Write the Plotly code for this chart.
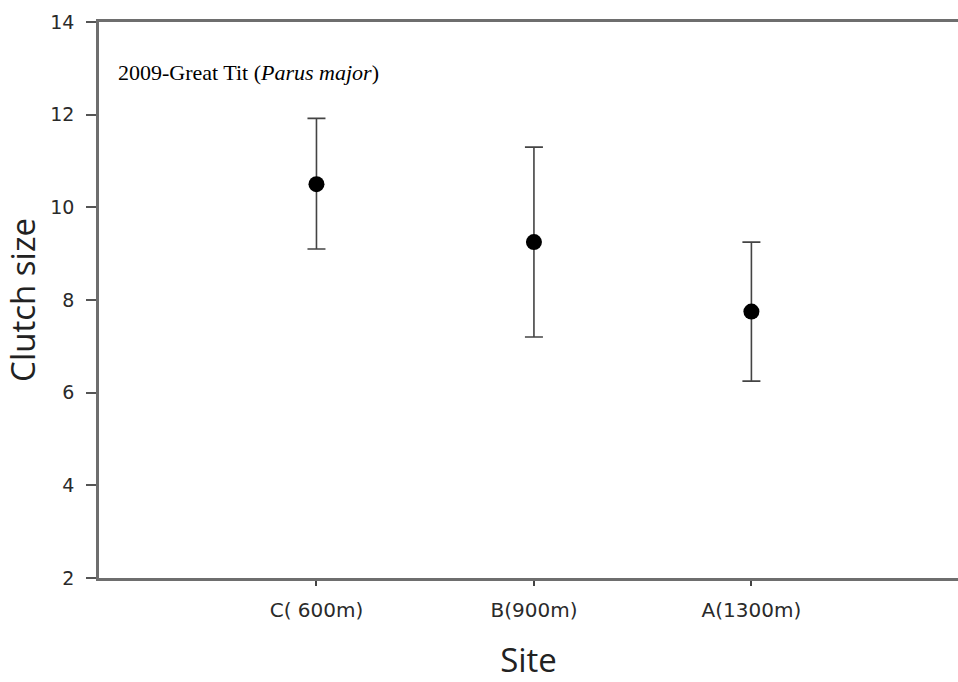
import plotly.graph_objects as go

sites = ["C( 600m)", "B(900m)", "A(1300m)"]
means = [10.5, 9.25, 7.75]
upper = [11.92, 11.3, 9.25]
lower = [9.1, 7.2, 6.25]
y_ticks = [2, 4, 6, 8, 10, 12, 14]

err_plus = [u - m for u, m in zip(upper, means)]
err_minus = [m - l for m, l in zip(means, lower)]

fig = go.Figure()
fig.add_trace(go.Scatter(
    x=list(range(len(sites))), y=means, mode="markers",
    marker=dict(color="black", size=16),
    error_y=dict(type="data", symmetric=False, array=err_plus, arrayminus=err_minus,
                 color="#444444", thickness=1.6, width=9),
    showlegend=False,
))

axis_color = "#6e6e6e"
fig.update_layout(
    width=958, height=682,
    margin=dict(l=99, r=0, t=22, b=104),
    plot_bgcolor="white", paper_bgcolor="white",
    xaxis=dict(
        range=[-1, 2.95], tickmode="array", tickvals=list(range(len(sites))), ticktext=sites,
        showline=True, linecolor=axis_color, linewidth=2.5, mirror=True,
        ticks="outside", ticklen=5, tickwidth=1.5, tickcolor="#444444",
        showgrid=False, zeroline=False, ticklabelstandoff=7,
        tickfont=dict(family="DejaVu Sans", size=20, color="#2a2a2a"),
        title=dict(text="Site", font=dict(family="Open Sans", size=33, color="#222222"), standoff=29),
    ),
    yaxis=dict(
        range=[2, 14], tickmode="array", tickvals=y_ticks,
        showline=True, linecolor=axis_color, linewidth=2.5,
        ticks="outside", ticklen=10, tickwidth=1.5, tickcolor="#555555",
        showgrid=False, zeroline=False, ticklabelstandoff=8,
        tickfont=dict(family="DejaVu Sans", size=19, color="#2a2a2a"),
        title=dict(text="Clutch size", font=dict(family="Open Sans", size=33, color="#222222"), standoff=8),
    ),
    annotations=[dict(
        text="2009-Great Tit (<i>Parus major</i>)", xref="paper", yref="paper",
        x=0.02, y=0.91, xanchor="left", yanchor="middle", showarrow=False,
        font=dict(family="Liberation Serif", size=22, color="black"),
    )],
)

fig.write_html("out.html")
